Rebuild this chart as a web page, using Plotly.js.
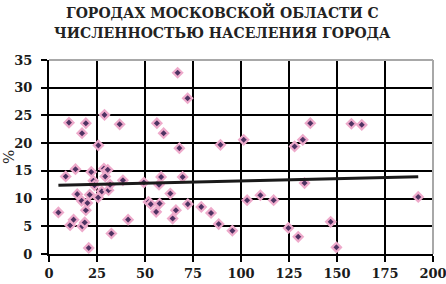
<!DOCTYPE html>
<html>
<head>
<meta charset="utf-8">
<script src="https://cdn.plot.ly/plotly-3.0.1.min.js"></script>
<style>html,body{margin:0;padding:0;background:#fff;}#chart{width:446px;height:284px;}</style>
</head>
<body>
<div id="chart"></div>
<script>
// Population (thousands) of town vs. percentage
const popX = [4.9, 8.7, 10.4, 11.0, 12.8, 13.8, 14.7, 17.0, 17.2, 17.3, 18.6, 19.2, 19.2, 20.0, 20.7, 21.2, 22.0, 23.1, 23.7,
  25.6, 25.7, 27.5, 28.6, 28.9, 29.3, 30.6, 31.0, 31.8, 32.5, 36.8, 38.5, 41.2,
  49.4, 51.8, 53.0, 55.8, 56.2, 57.3, 57.6, 58.4, 59.7, 63.2, 64.4, 66.1, 67.0, 67.9, 69.6, 72.2, 72.3,
  79.3, 84.4, 88.4, 89.3, 95.5, 101.4, 103.2, 110.1, 117.0, 124.7, 127.9, 129.8, 132.2, 133.1, 136.1,
  146.7, 149.7, 157.5, 162.9, 192.3];
const pctY = [7.5, 14.0, 23.7, 5.2, 6.2, 15.3, 10.8, 9.6, 21.8, 5.0, 5.7, 7.9, 23.6, 9.2, 1.1, 10.7, 14.8, 13.2, 12.4,
  10.2, 19.6, 11.3, 15.4, 25.1, 14.0, 15.2, 11.5, 12.5, 3.7, 23.4, 13.3, 6.2,
  12.9, 9.4, 9.0, 7.6, 23.6, 12.5, 9.1, 13.9, 21.8, 10.9, 6.4, 7.9, 32.7, 19.1, 13.9, 28.1, 9.0,
  8.5, 7.4, 5.4, 19.7, 4.2, 20.6, 9.7, 10.6, 9.7, 4.7, 19.4, 3.1, 20.6, 12.8, 23.6,
  5.8, 1.2, 23.5, 23.3, 10.3];
// Linear trend line end points
const trendX = [4.9, 192.3];
const trendY = [12.4, 13.95];
const xTicks = [0, 25, 50, 75, 100, 125, 150, 175, 200];
const yTicks = [0, 5, 10, 15, 20, 25, 30, 35];
const titleLines = ["ГОРОДАХ МОСКОВСКОЙ ОБЛАСТИ С", "ЧИСЛЕННОСТЬЮ НАСЕЛЕНИЯ ГОРОДА"];
const yTitle = "%";

const serif = "DejaVu Serif";
const traces = [
  {
    x: popX, y: pctY, type: 'scatter', mode: 'markers',
    marker: {symbol: 'diamond', size: 7, color: '#4e3262', line: {color: '#eeaacb', width: 2.2}},
    hoverinfo: 'skip'
  },
  {
    x: trendX, y: trendY, type: 'scatter', mode: 'lines',
    line: {color: '#1a1a1a', width: 3}, hoverinfo: 'skip'
  }
];
const axisCommon = {
  showline: true, linecolor: '#000', linewidth: 2,
  showgrid: true, gridcolor: '#000', gridwidth: 2,
  zeroline: false, ticks: 'outside', ticklen: 6, tickwidth: 2, tickcolor: '#000',
  tickfont: {family: serif, size: 13, color: '#1a1a1a', weight: 'bold'},
  ticklabeloverflow: 'allow',
  fixedrange: true
};
const layout = {
  width: 446, height: 284,
  font: {family: serif},
  margin: {l: 49, r: 13, t: 60, b: 30},
  paper_bgcolor: '#fff', plot_bgcolor: '#fff',
  showlegend: false,
  annotations: [
    {text: titleLines[0], xref: 'paper', yref: 'paper', x: 0.452, y: 1.247, xanchor: 'center', yanchor: 'middle',
     showarrow: false, font: {family: serif, size: 14, color: '#222', weight: 'bold'}},
    {text: titleLines[1], xref: 'paper', yref: 'paper', x: 0.452, y: 1.139, xanchor: 'center', yanchor: 'middle',
     showarrow: false, font: {family: serif, size: 14, color: '#222', weight: 'bold'}}
  ],
  xaxis: Object.assign({}, axisCommon, {
    range: [0, 200], tickvals: xTicks, ticktext: xTicks.map(String), ticklabelstandoff: 0
  }),
  yaxis: Object.assign({}, axisCommon, {
    range: [0, 35], tickvals: yTicks, ticktext: yTicks.map(String), ticklabelstandoff: 6,
    title: {text: yTitle, font: {family: serif, size: 15, color: '#222'}, standoff: 6}
  }),
  shapes: [
    {type: 'line', xref: 'paper', yref: 'paper', x0: 0, x1: 1, y0: 1, y1: 1, line: {color: '#a8a8a8', width: 2}, layer: 'above'},
    {type: 'line', xref: 'paper', yref: 'paper', x0: 1, x1: 1, y0: 0, y1: 1, line: {color: '#a8a8a8', width: 2}, layer: 'above'}
  ]
};
Plotly.newPlot('chart', traces, layout, {staticPlot: true, displayModeBar: false});
</script>
</body>
</html>
